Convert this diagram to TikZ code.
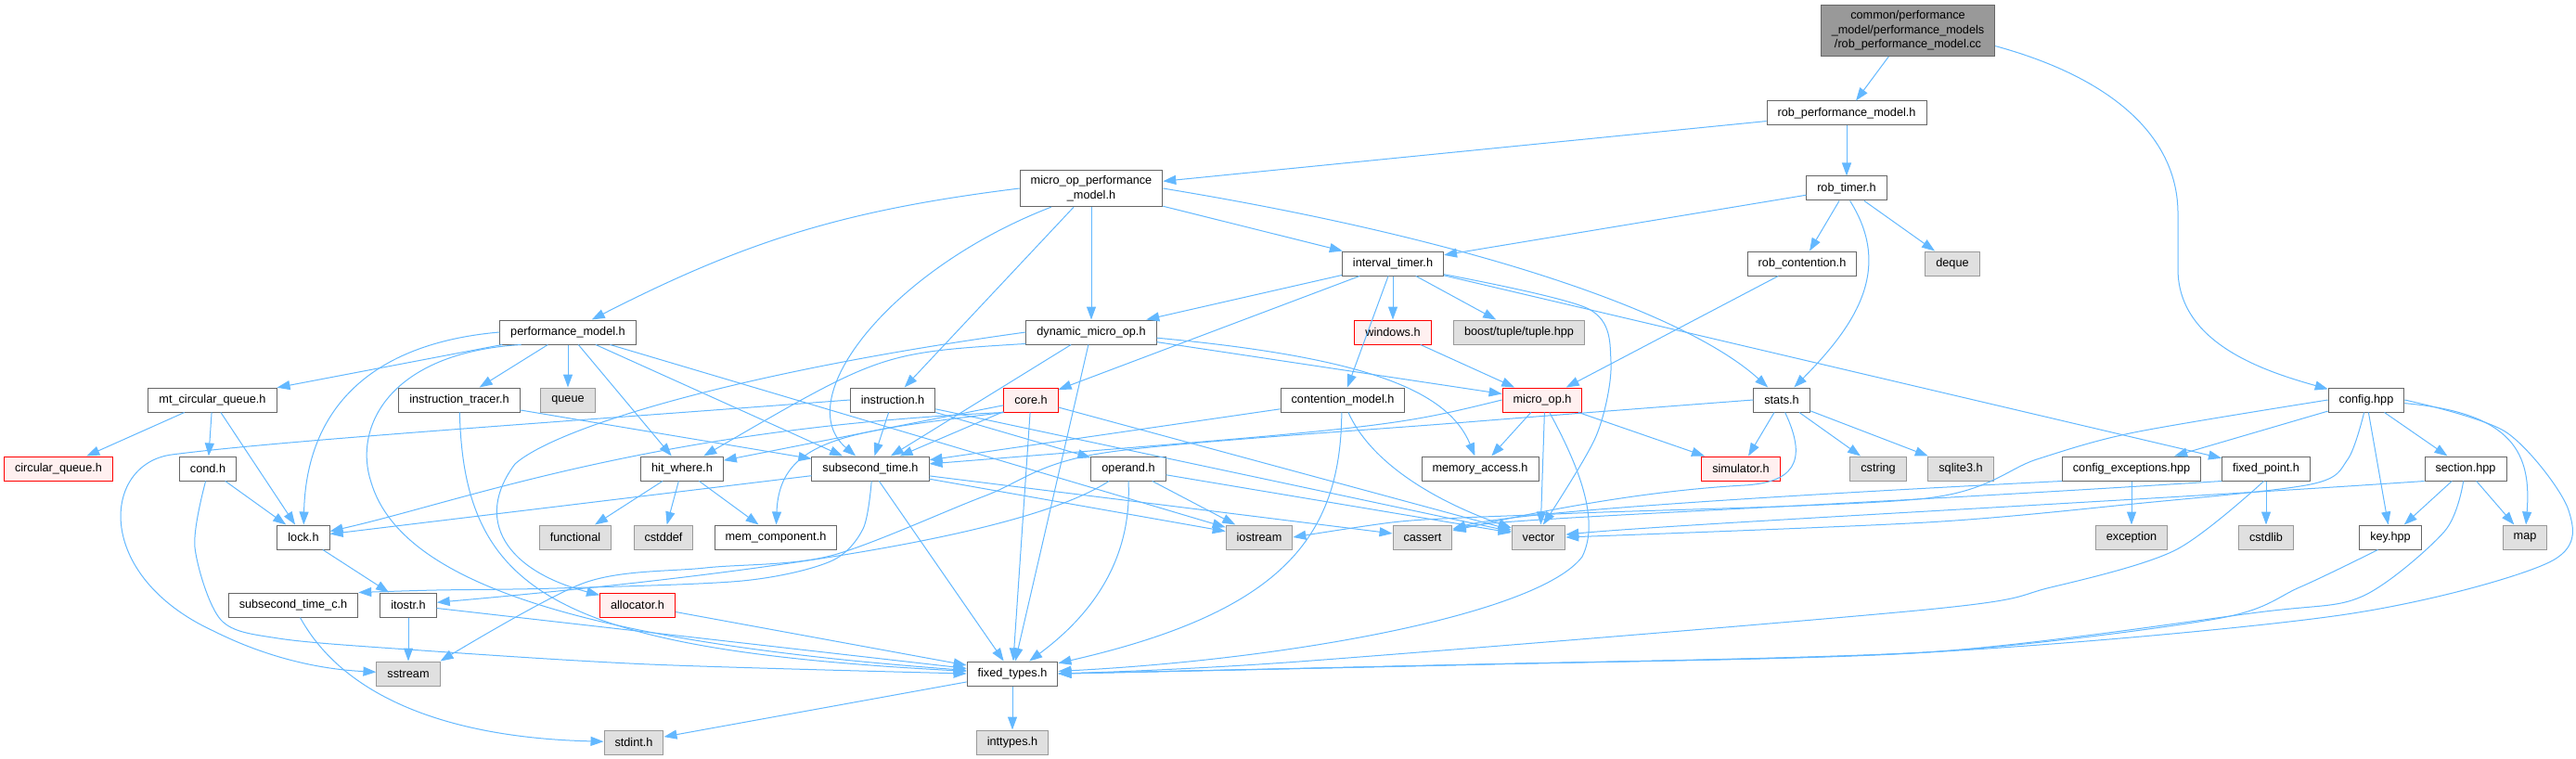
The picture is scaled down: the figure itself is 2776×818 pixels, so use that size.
\documentclass[tikz,border=0pt]{standalone}
\usepackage{fontspec}
\setmainfont{Liberation Sans}
\usetikzlibrary{arrows.meta}

\definecolor{edgeblue}{HTML}{63B8FF}
\definecolor{nodeedge}{HTML}{666666}
\definecolor{sysedge}{HTML}{999999}
\definecolor{sysfill}{HTML}{E0E0E0}
\definecolor{rededge}{HTML}{FF0000}
\definecolor{redfill}{HTML}{FFF0F0}
\definecolor{rootfill}{HTML}{999999}

\begin{document}
\begin{tikzpicture}[x=0.5pt, y=-0.5pt,
    incbox/.style={draw=nodeedge, fill=white, line width=0.5pt, inner xsep=5.75pt, inner ysep=3pt,
        minimum height=13pt, align=center, font=\fontsize{6.35}{7.8}\selectfont},
    sysbox/.style={incbox, draw=sysedge, fill=sysfill},
    redbox/.style={incbox, draw=rededge, fill=redfill},
    rootbox/.style={incbox, fill=rootfill},
    incl/.style={draw=edgeblue, line width=0.5pt, -{Triangle[length=7pt, width=5pt]}}]

    % Fix the size of the page
    \useasboundingbox (0,0) rectangle (2776,818);

    % Draw the files, one rank after the other
    \node[rootbox] (root) at (2056,33) {common/performance\\\_model/performance\_models\\/rob\_performance\_model.cc};
    \node[incbox] (robpm) at (1990,122) {rob\_performance\_model.h};
    \node[incbox] (mopm) at (1176,203) {micro\_op\_performance\\\_model.h};
    \node[incbox] (robtimer) at (1990,203) {rob\_timer.h};
    \node[incbox] (itimer) at (1501,284) {interval\_timer.h};
    \node[incbox] (robcont) at (1942,284) {rob\_contention.h};
    \node[sysbox] (deque) at (2104,284) {deque};
    \node[incbox] (perfmodel) at (612,358) {performance\_model.h};
    \node[incbox] (dynmop) at (1176,358) {dynamic\_micro\_op.h};
    \node[redbox] (windows) at (1501,358) {windows.h};
    \node[sysbox] (boost) at (1637,358) {boost/tuple/tuple.hpp};
    \node[incbox] (mtcq) at (229,431) {mt\_circular\_queue.h};
    \node[incbox] (itracer) at (495,431) {instruction\_tracer.h};
    \node[sysbox] (queue) at (612,431) {queue};
    \node[incbox] (instr) at (962,431) {instruction.h};
    \node[redbox] (core) at (1111,431) {core.h};
    \node[incbox] (contmodel) at (1447,431) {contention\_model.h};
    \node[redbox] (microop) at (1662,431) {micro\_op.h};
    \node[incbox] (stats) at (1920,431) {stats.h};
    \node[incbox] (cfg) at (2550,431) {config.hpp};
    \node[redbox] (cq) at (63,505) {circular\_queue.h};
    \node[incbox] (cond) at (224,505) {cond.h};
    \node[incbox] (hitwhere) at (735,505) {hit\_where.h};
    \node[incbox] (sstime) at (938,505) {subsecond\_time.h};
    \node[incbox] (operand) at (1216,505) {operand.h};
    \node[incbox] (memacc) at (1595,505) {memory\_access.h};
    \node[redbox] (simulator) at (1876,505) {simulator.h};
    \node[sysbox] (cstring) at (2024,505) {cstring};
    \node[sysbox] (sqlite) at (2113,505) {sqlite3.h};
    \node[incbox] (cfgexc) at (2297,505) {config\_exceptions.hpp};
    \node[incbox] (fixpt) at (2442,505) {fixed\_point.h};
    \node[incbox] (section) at (2657,505) {section.hpp};
    \node[incbox] (lock) at (327,579) {lock.h};
    \node[sysbox] (functional) at (620,579) {functional};
    \node[sysbox] (cstddef) at (715,579) {cstddef};
    \node[incbox] (memcomp) at (836,579) {mem\_component.h};
    \node[sysbox] (iostream) at (1357,579) {iostream};
    \node[sysbox] (cassert) at (1533,579) {cassert};
    \node[sysbox] (vector) at (1658,579) {vector};
    \node[sysbox] (exception) at (2297,579) {exception};
    \node[sysbox] (cstdlib) at (2442,579) {cstdlib};
    \node[incbox] (key) at (2576,579) {key.hpp};
    \node[sysbox] (map) at (2721,579) {map};
    \node[incbox] (sstimec) at (316,652) {subsecond\_time\_c.h};
    \node[incbox] (itostr) at (440,652) {itostr.h};
    \node[redbox] (allocator) at (687,652) {allocator.h};
    \node[sysbox] (sstream) at (440,726) {sstream};
    \node[incbox] (ftypes) at (1091,726) {fixed\_types.h};
    \node[sysbox] (stdint) at (683,800) {stdint.h};
    \node[sysbox] (inttypes) at (1091,800) {inttypes.h};

    % Draw the includes of the source file
    \draw[incl] (root) -- (robpm);
    \draw[incl] (root.-10) .. controls (2280,85) and (2347,150) .. (2347,230) -- (2347,290) .. controls (2347,370) and (2440,400) .. (cfg);

    % Draw the includes of rob_performance_model.h
    \draw[incl] (robpm) -- (mopm);
    \draw[incl] (robpm) -- (robtimer);

    % Draw the includes of micro_op_performance_model.h
    \draw[incl] (mopm.west) to[bend right=10] (perfmodel);
    \draw[incl] (mopm.205) .. controls (960,290) and (850,430) .. (sstime);
    \draw[incl] (mopm) -- (instr);
    \draw[incl] (mopm) -- (dynmop);
    \draw[incl] (mopm) -- (itimer);
    \draw[incl] (mopm.east) .. controls (1600,260) and (1820,340) .. (stats);

    % Draw the includes of rob_timer.h
    \draw[incl] (robtimer) -- (itimer);
    \draw[incl] (robtimer) -- (robcont);
    \draw[incl] (robtimer) -- (deque);
    \draw[incl] (robtimer.-75) .. controls (2040,290) and (2000,350) .. (stats);

    % Draw the includes of interval_timer.h
    \draw[incl] (itimer) -- (dynmop);
    \draw[incl] (itimer) -- (core);
    \draw[incl] (itimer) -- (contmodel);
    \draw[incl] (itimer) -- (windows);
    \draw[incl] (itimer) -- (boost);
    \draw[incl] plot[smooth] coordinates {(itimer.-12) (1712,333) (1736,390) (1720,470) (vector.70)};
    \draw[incl] (itimer) -- (fixpt);
    \draw[incl] (robcont) -- (microop);
    \draw[incl] (windows) -- (microop);

    % Draw the includes of performance_model.h
    \draw[incl] (perfmodel) -- (mtcq);
    \draw[incl] (perfmodel.west) .. controls (400,370) and (330,440) .. (lock);
    \draw[incl] (perfmodel.195) .. controls (420,380) and (380,460) .. (400,520) .. controls (430,620) and (600,690) .. (ftypes);
    \draw[incl] (perfmodel) -- (itracer);
    \draw[incl] (perfmodel) -- (queue);
    \draw[incl] (perfmodel) -- (hitwhere);
    \draw[incl] (perfmodel) -- (sstime);
    \draw[incl] (perfmodel) -- (iostream);

    % Draw the includes of dynamic_micro_op.h
    \draw[incl] (dynmop) -- (microop);
    \draw[incl] (dynmop.-5) .. controls (1470,385) and (1560,420) .. (memacc);
    \draw[incl] (dynmop) -- (sstime);
    \draw[incl] (dynmop) -- (ftypes);
    \draw[incl] (dynmop.190) .. controls (950,380) .. (hitwhere);
    \draw[incl] (dynmop.west) .. controls (800,400) and (600,460) .. (555,500) .. controls (510,560) and (545,615) .. (allocator);

    % Draw the includes of mt_circular_queue.h and cond.h
    \draw[incl] (mtcq) -- (cq);
    \draw[incl] (mtcq) -- (cond);
    \draw[incl] (mtcq) -- (lock);
    \draw[incl] (cond) -- (lock);
    \draw[incl] plot[smooth] coordinates {(cond.-100) (210,590) (238,668) (300,688) (440,700) (700,716) (ftypes.west)};

    % Draw the includes of instruction_tracer.h and instruction.h
    \draw[incl] (itracer) -- (sstime);
    \draw[incl] (itracer) .. controls (500,640) and (600,700) .. (ftypes);
    \draw[incl] (instr.west) .. controls (600,455) and (300,475) .. (185,490) .. controls (110,500) and (100,620) .. (230,680) .. controls (300,715) and (360,722) .. (sstream);
    \draw[incl] (instr) -- (sstime);
    \draw[incl] (instr) -- (operand);
    \draw[incl] (instr) -- (vector);

    % Draw the includes of core.h
    \draw[incl] (core.south west) .. controls (700,462) and (500,540) .. (lock);
    \draw[incl] (core) -- (hitwhere);
    \draw[incl] (core.south west) .. controls (920,465) and (840,470) .. (memcomp);
    \draw[incl] (core) -- (sstime);
    \draw[incl] (core) -- (ftypes);
    \draw[incl] (core) -- (vector);

    % Draw the includes of contention_model.h
    \draw[incl] (contmodel) -- (sstime);
    \draw[incl] (contmodel.-95) .. controls (1445,580) and (1380,660) .. (ftypes);
    \draw[incl] (contmodel) .. controls (1480,505) and (1560,545) .. (vector);

    % Draw the includes of micro_op.h
    \draw[incl] (microop) -- (memacc);
    \draw[incl] (microop) -- (simulator);
    \draw[incl] (microop.-80) -- (vector.80);
    \draw[incl] (microop.-60) .. controls (1700,500) and (1725,560) .. (1705,600) .. controls (1660,660) and (1400,710) .. (ftypes);
    \draw[incl] (microop.west) .. controls (1500,460) .. (sstime);

    % Draw the includes of stats.h
    \draw[incl] (stats) -- (simulator);
    \draw[incl] (stats) -- (cstring);
    \draw[incl] (stats) -- (sqlite);
    \draw[incl] plot[smooth] coordinates {(stats.west) (1580,455) (1190,488) (1060,535) (895,599) (760,612) (630,628) (sstream.north east)};
    \draw[incl] (stats.-75) .. controls (1950,500) and (1930,520) .. (1880,523) .. controls (1750,530) and (1620,560) .. (cassert);

    % Draw the includes of config.hpp
    \draw[incl] (cfg) -- (cfgexc);
    \draw[incl] (cfg) -- (key);
    \draw[incl] (cfg) -- (section);
    \draw[incl] (cfg) .. controls (2710,445) and (2728,490) .. (map);
    \draw[incl] plot[smooth] coordinates {(cfg.east) (2701,466) (2768,550) (2745,607) (2522,663) (2076,703) (1500,718) (ftypes.east)};
    \draw[incl] plot[smooth] coordinates {(cfg.west) (2300,466) (2195,495) (2076,537) (1700,553) (1575,558) (1500,563) (iostream.east)};
    \draw[incl] plot[smooth] coordinates {(cfg.-100) (2530,495) (2490,522) (2300,543) (2076,563) (vector.east)};

    % Draw the includes of config_exceptions.hpp, fixed_point.h, section.hpp and key.hpp
    \draw[incl] (cfgexc) -- (exception);
    \draw[incl] (cfgexc.south west) .. controls (1800,540) and (1620,555) .. (cassert);
    \draw[incl] (fixpt) -- (cstdlib);
    \draw[incl] (fixpt.south west) .. controls (1900,550) and (1620,558) .. (cassert);
    \draw[incl] plot[smooth] coordinates {(fixpt.-100) (2344,593) (2210,633) (2076,657) (1400,713) (ftypes.east)};
    \draw[incl] (section) -- (key);
    \draw[incl] (section) -- (map);
    \draw[incl] (section.south west) .. controls (2300,540) and (1800,565) .. (vector);
    \draw[incl] plot[smooth] coordinates {(section.-100) (2634,573) (2545,643) (2433,660) (2076,703) (1600,716) (ftypes.east)};
    \draw[incl] plot[smooth] coordinates {(key.-135) (2478,633) (2388,667) (2076,703) (1600,716) (ftypes.east)};

    % Draw the includes of the lower headers
    \draw[incl] (hitwhere) -- (functional);
    \draw[incl] (hitwhere) -- (cstddef);
    \draw[incl] (hitwhere) -- (memcomp);
    \draw[incl] (sstime) -- (lock);
    \draw[incl] (sstime) -- (ftypes);
    \draw[incl] plot[smooth] coordinates {(sstime.-85) (930,570) (895,605) (800,626) (600,634) (470,636) (sstimec.north east)};
    \draw[incl] (sstime) -- (iostream);
    \draw[incl] (sstime) -- (cassert);
    \draw[incl] (operand) -- (iostream);
    \draw[incl] (operand.-90) .. controls (1220,600) and (1180,660) .. (ftypes);
    \draw[incl] (operand) -- (vector);
    \draw[incl] (operand) .. controls (1100,580) and (800,620) .. (itostr);
    \draw[incl] (lock) -- (itostr);
    \draw[incl] (itostr) -- (sstream);
    \draw[incl] (itostr) -- (ftypes);
    \draw[incl] (allocator) -- (ftypes);
    \draw[incl] (sstimec) .. controls (370,750) and (480,795) .. (stdint);
    \draw[incl] (ftypes) -- (stdint);
    \draw[incl] (ftypes) -- (inttypes);

\end{tikzpicture}
\end{document}
